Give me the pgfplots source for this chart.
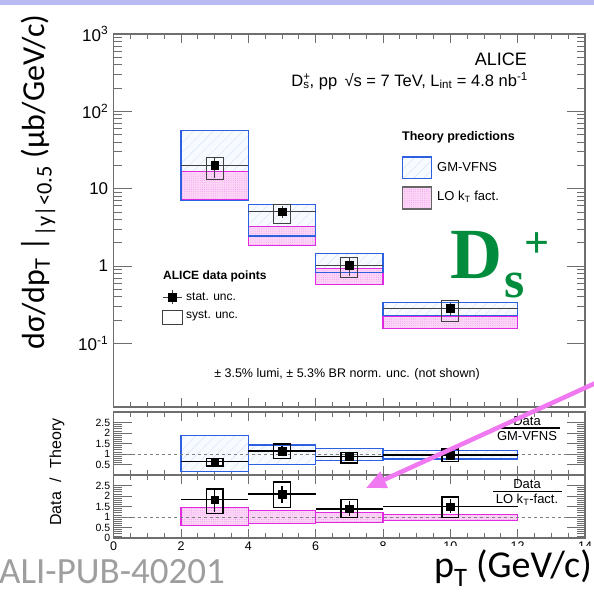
\documentclass[border=0pt]{standalone}
\usepackage{pgfplots}
\pgfplotsset{compat=1.18}
\usepackage{fontspec}
\setmainfont{Liberation Sans}
\newfontfamily\carlito{Carlito}
\newfontfamily\serifb{Liberation Serif}
\usetikzlibrary{patterns.meta,arrows.meta}
\definecolor{gmblue}{RGB}{45,95,225}
\definecolor{lomag}{RGB}{225,40,225}
\definecolor{lopink}{RGB}{252,214,247}
\definecolor{hatchc}{RGB}{214,226,247}
\definecolor{gmbg}{RGB}{247,250,255}
\definecolor{dsgreen}{RGB}{0,140,60}
\definecolor{arrowpink}{RGB}{240,120,240}
\definecolor{strip}{RGB}{186,186,242}
\definecolor{framec}{RGB}{110,110,110}
\pgfplotsset{
  gmfill/.style={draw=none, fill=gmbg, postaction={pattern={Lines[angle=45,distance=7pt,line width=0.4pt]}, pattern color=hatchc}},
  gmline/.style={draw=gmblue, line width=1.1pt, fill=none},
  loband/.style={draw=lomag, line width=1.1pt, fill=lopink, postaction={pattern={Dots[distance=2.2pt,radius=0.45pt]}, pattern color=lomag!50}},
  systmain/.style={draw=black!75, line width=1pt, fill=none},
  systratio/.style={draw=black, line width=1.4pt, fill=none},
  datamain/.style={only marks, mark=square*, mark size=3.8pt, black,
    error bars/.cd, x dir=both, x explicit, y dir=both, y explicit, error mark=none,
    error bar style={line width=0.9pt, black!75}},
  dataratio/.style={only marks, mark=square*, mark size=3.8pt, black,
    error bars/.cd, x dir=both, x explicit, y dir=both, y explicit, error mark=none,
    error bar style={line width=1.4pt, black}},
  common/.style={scale only axis, anchor=north west, width=471.3pt, xmin=0, xmax=14,
    axis line style={framec, line width=1.2pt},
    tick style={framec, line width=0.8pt},
    xtick={0,2,...,14}, minor x tick num=3,
    xtick style={/pgfplots/major tick length=9pt, /pgfplots/minor tick length=5pt},
    ytick style={/pgfplots/major tick length=18pt, /pgfplots/minor tick length=8pt},
    /pgf/number format/assume math mode=true},
}
\begin{document}
\begin{tikzpicture}[x=1pt,y=1pt]
\path[use as bounding box] (0pt,0pt) rectangle (594pt,-592pt);
\fill[strip] (0pt,0pt) rectangle (594pt,-4.5pt);

% ---------------- main panel ----------------
\begin{axis}[common, at={(113.7pt,-34pt)}, height=373pt,
  ymode=log, ymin=0.015, ymax=1000,
  xticklabels={},
  ytick={0.1,1,10,100,1000},
  yticklabels={10\textsuperscript{-1},1,10,10\textsuperscript{2},10\textsuperscript{3}},
  yticklabel style={font=\fontsize{17}{17}\selectfont, xshift=-2pt}]
% GM-VFNS fill
\addplot[gmfill] coordinates {(2,6.97)(4,6.97)(4,56)(2,56)} --cycle;
\addplot[gmfill] coordinates {(4,2.44)(6,2.44)(6,6.27)(4,6.27)} --cycle;
\addplot[gmfill] coordinates {(6,0.82)(8,0.82)(8,1.46)(6,1.46)} --cycle;
\addplot[gmfill] coordinates {(8,0.227)(12,0.227)(12,0.338)(8,0.338)} --cycle;
% LO kT
\addplot[loband] coordinates {(2,7.2)(4,7.2)(4,16.6)(2,16.6)} --cycle;
\addplot[loband] coordinates {(4,1.86)(6,1.86)(6,3.21)(4,3.21)} --cycle;
\addplot[loband] coordinates {(6,0.58)(8,0.58)(8,0.92)(6,0.92)} --cycle;
\addplot[loband] coordinates {(8,0.156)(12,0.156)(12,0.225)(8,0.225)} --cycle;
% GM-VFNS outline
\addplot[gmline] coordinates {(2,6.97)(4,6.97)(4,56)(2,56)} --cycle;
\addplot[gmline] coordinates {(4,2.44)(6,2.44)(6,6.27)(4,6.27)} --cycle;
\addplot[gmline] coordinates {(6,0.82)(8,0.82)(8,1.46)(6,1.46)} --cycle;
\addplot[gmline] coordinates {(8,0.227)(12,0.227)(12,0.338)(8,0.338)} --cycle;
% syst boxes
\addplot[systmain] coordinates {(2.75,13.3)(3.25,13.3)(3.25,25.6)(2.75,25.6)} --cycle;
\addplot[systmain] coordinates {(4.75,3.5)(5.25,3.5)(5.25,6.3)(4.75,6.3)} --cycle;
\addplot[systmain] coordinates {(6.75,0.72)(7.25,0.72)(7.25,1.28)(6.75,1.28)} --cycle;
\addplot[systmain] coordinates {(9.75,0.19)(10.25,0.19)(10.25,0.362)(9.75,0.362)} --cycle;
% data
\addplot[datamain] coordinates {
  (3,20.2) += (1,4.8) -= (1,6.5)
  (5,5.02) += (1,1.0) -= (1,0.85)
  (7,1.02) += (1,0.24) -= (1,0.27)
  (10,0.283) += (2,0.045) -= (2,0.055)};
% legend symbols
\addplot[gmfill] coordinates {(8.59,13.7)(9.43,13.7)(9.43,25.7)(8.59,25.7)} --cycle;
\addplot[gmline] coordinates {(8.59,13.7)(9.43,13.7)(9.43,25.7)(8.59,25.7)} --cycle;
\addplot[loband, draw=black!60] coordinates {(8.59,5.46)(9.43,5.46)(9.43,10.5)(8.59,10.5)} --cycle;
\addplot[datamain] coordinates {(1.745,0.397) += (0.28,0.092) -= (0.28,0.075)};
\addplot[systmain] coordinates {(1.46,0.177)(2.03,0.177)(2.03,0.262)(1.46,0.262)} --cycle;
\end{axis}

% ---------------- ratio to GM-VFNS ----------------
\begin{axis}[common, at={(113.7pt,-412pt)}, height=63pt,
  ymin=0, ymax=3, xticklabels={},
  ytick={0.5,1,1.5,2,2.5}, yticklabels={0.5,1,1.5,2,2.5}, minor y tick num=4,
  yticklabel style={font=\fontsize{10.5}{10.5}\selectfont}]
\addplot[gmfill] coordinates {(2,0.18)(4,0.18)(4,1.88)(2,1.88)} --cycle;
\addplot[gmfill] coordinates {(4,0.52)(6,0.52)(6,1.43)(4,1.43)} --cycle;
\addplot[gmfill] coordinates {(6,0.71)(8,0.71)(8,1.27)(6,1.27)} --cycle;
\addplot[gmfill] coordinates {(8,0.76)(12,0.76)(12,1.16)(8,1.16)} --cycle;
\addplot[gmline] coordinates {(2,0.18)(4,0.18)(4,1.88)(2,1.88)} --cycle;
\addplot[gmline] coordinates {(4,0.52)(6,0.52)(6,1.43)(4,1.43)} --cycle;
\addplot[gmline] coordinates {(6,0.71)(8,0.71)(8,1.27)(6,1.27)} --cycle;
\addplot[gmline] coordinates {(8,0.76)(12,0.76)(12,1.16)(8,1.16)} --cycle;
\addplot[gray, line width=0.8pt, dash pattern=on 3pt off 3pt] coordinates {(0,1)(14,1)};
\addplot[systratio] coordinates {(2.75,0.42)(3.25,0.42)(3.25,0.80)(2.75,0.80)} --cycle;
\addplot[systratio] coordinates {(4.75,0.79)(5.25,0.79)(5.25,1.48)(4.75,1.48)} --cycle;
\addplot[systratio] coordinates {(6.75,0.58)(7.25,0.58)(7.25,1.08)(6.75,1.08)} --cycle;
\addplot[systratio] coordinates {(9.75,0.63)(10.25,0.63)(10.25,1.24)(9.75,1.24)} --cycle;
\addplot[dataratio] coordinates {
  (3,0.63) += (1,0.1) -= (1,0.1)
  (5,1.14) += (1,0.25) -= (1,0.25)
  (7,0.87) += (1,0.15) -= (1,0.15)
  (10,0.95) += (2,0.14) -= (2,0.14)};
\end{axis}

% ---------------- ratio to LO kT ----------------
\begin{axis}[common, at={(113.7pt,-475pt)}, height=63pt,
  ymin=0, ymax=3,
  xticklabels={0,2,4,6,8,10,12,14},
  xticklabel style={font=\fontsize{12.5}{12.5}\selectfont},
  ytick={0,0.5,1,1.5,2,2.5}, yticklabels={0,0.5,1,1.5,2,2.5}, minor y tick num=4,
  yticklabel style={font=\fontsize{10.5}{10.5}\selectfont}]
\addplot[loband] coordinates {(2,0.61)(4,0.61)(4,1.47)(2,1.47)} --cycle;
\addplot[loband] coordinates {(4,0.70)(6,0.70)(6,1.29)(4,1.29)} --cycle;
\addplot[loband] coordinates {(6,0.72)(8,0.72)(8,1.21)(6,1.21)} --cycle;
\addplot[loband] coordinates {(8,0.82)(12,0.82)(12,1.13)(8,1.13)} --cycle;
\addplot[gray, line width=0.8pt, dash pattern=on 3pt off 3pt] coordinates {(0,1)(14,1)};
\addplot[systratio] coordinates {(2.75,1.18)(3.25,1.18)(3.25,2.34)(2.75,2.34)} --cycle;
\addplot[systratio] coordinates {(4.75,1.45)(5.25,1.45)(5.25,2.66)(4.75,2.66)} --cycle;
\addplot[systratio] coordinates {(6.75,0.98)(7.25,0.98)(7.25,1.82)(6.75,1.82)} --cycle;
\addplot[systratio] coordinates {(9.75,0.98)(10.25,0.98)(10.25,1.95)(9.75,1.95)} --cycle;
\addplot[dataratio] coordinates {
  (3,1.82) += (1,0.50) -= (1,0.60)
  (5,2.10) += (1,0.40) -= (1,0.44)
  (7,1.39) += (1,0.36) -= (1,0.34)
  (10,1.50) += (2,0.37) -= (2,0.32)};
\end{axis}

% ---------------- texts ----------------
\node[anchor=east, inner sep=0, font=\fontsize{18}{18}\selectfont] at (527pt,-59pt) {ALICE};
\node[anchor=east, inner sep=0, font=\fontsize{16.5}{16.5}\selectfont] at (528pt,-81pt)
  {D\rlap{\textsuperscript{+}}\textsubscript{s}, pp \,√s = 7 TeV, L\textsubscript{int} = 4.8 nb\textsuperscript{-1}};
\node[anchor=west, inner sep=0, font=\bfseries\fontsize{12.5}{12.5}\selectfont] at (402pt,-137pt) {Theory predictions};
\node[anchor=west, inner sep=0, font=\fontsize{13}{13}\selectfont] at (437pt,-167pt) {GM-VFNS};
\node[anchor=west, inner sep=0, font=\fontsize{13}{13}\selectfont] at (437pt,-197pt) {LO k\textsubscript{T} fact.};
\node[anchor=west, inner sep=0, font=\bfseries\fontsize{12}{12}\selectfont] at (163pt,-276pt) {ALICE data points};
\node[anchor=west, inner sep=0, font=\fontsize{12}{12}\selectfont] at (186pt,-296.5pt) {stat. unc.};
\node[anchor=west, inner sep=0, font=\fontsize{12}{12}\selectfont] at (186pt,-316pt) {syst. unc.};
\node[inner sep=0, font=\fontsize{12.5}{12.5}\selectfont] at (347pt,-374pt) {± 3.5\% lumi, ± 5.3\% BR norm. unc. (not shown)};
% big green Ds+
\node[anchor=base west, inner sep=0, text=dsgreen, font=\serifb\bfseries\fontsize{72}{72}\selectfont] at (450pt,-278pt) {D};
\node[anchor=base west, inner sep=0, text=dsgreen, font=\serifb\bfseries\fontsize{52}{52}\selectfont] at (504pt,-297pt) {s};
\node[inner sep=0, text=dsgreen, font=\serifb\bfseries\fontsize{44}{44}\selectfont] at (537.5pt,-245pt) {+};
% ratio fractions
\node[inner sep=0, font=\fontsize{13}{13}\selectfont] at (527pt,-421pt) {Data};
\draw[line width=1.2pt] (493pt,-428pt) -- (560pt,-428pt);
\node[inner sep=0, font=\fontsize{13}{13}\selectfont] at (527pt,-436pt) {GM-VFNS};
\node[inner sep=0, font=\fontsize{13}{13}\selectfont] at (527pt,-484pt) {Data};
\draw[line width=1.2pt] (493pt,-491.5pt) -- (562pt,-491.5pt);
\node[inner sep=0, font=\fontsize{13}{13}\selectfont] at (527pt,-499.5pt) {LO k\textsubscript{T}-fact.};
% y labels
\node[rotate=90, inner sep=0, font=\carlito\fontsize{32}{32}\selectfont] at (38pt,-182pt)
  {dσ/dp\textsubscript{T} |\textsubscript{|y|<0.5} (μb/GeV/c)};
\begin{scope}
\clip (0pt,-409.5pt) rectangle (110pt,-592pt);
\node[rotate=90, anchor=west, inner sep=0, font=\fontsize{16}{16}\selectfont] at (57pt,-526pt) {Data\hspace{0.6em}/\hspace{0.6em}Theory};
\end{scope}
% bottom labels
\fill[white] (372pt,-545.5pt) rectangle (594pt,-592pt);
\node[anchor=west, inner sep=0, text=black!38, font=\carlito\fontsize{37}{37}\selectfont] at (-1pt,-572pt) {ALI-PUB-40201};
\node[anchor=east, inner sep=0, font=\carlito\fontsize{38}{38}\selectfont] at (592pt,-568pt) {p\textsubscript{T} (GeV/c)};
% arrow
\draw[arrowpink, line width=4.5pt, -{Triangle[length=20pt,width=17pt]}] (600pt,-381pt) -- (366pt,-488pt);
\end{tikzpicture}
\end{document}
